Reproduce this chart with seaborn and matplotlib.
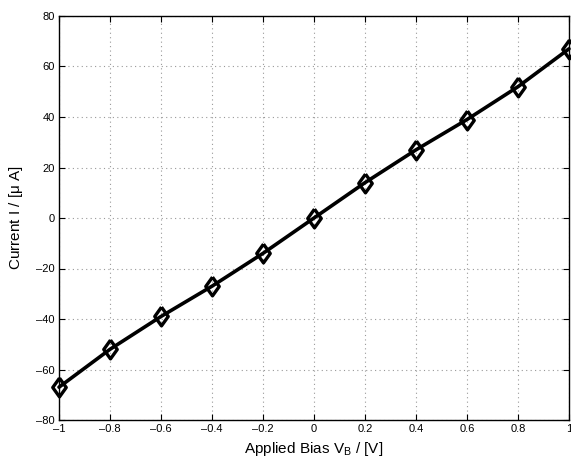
import matplotlib
matplotlib.use("Agg")
import matplotlib.pyplot as plt
import seaborn as sns
import pandas as pd

bias_v = [-1.0, -0.8, -0.6, -0.4, -0.2, 0.0, 0.2, 0.4, 0.6, 0.8, 1.0]
current_ua = [-67, -52, -39, -27, -14, 0, 14, 27, 39, 52, 67]
x_ticks = [-1, -0.8, -0.6, -0.4, -0.2, 0, 0.2, 0.4, 0.6, 0.8, 1]
y_ticks = [-80, -60, -40, -20, 0, 20, 40, 60, 80]

sns.set_style("white")
plt.rcParams["font.family"] = ["Liberation Sans", "DejaVu Sans"]
plt.rcParams["text.color"] = "black"
plt.rcParams["axes.labelcolor"] = "black"
plt.rcParams["xtick.color"] = "black"
plt.rcParams["ytick.color"] = "black"

df = pd.DataFrame({"V": bias_v, "I": current_ua})

# slightly tall diamond marker
diamond = [(0, 1), (0.72, 0), (0, -1), (-0.72, 0), (0, 1)]

fig = plt.figure(figsize=(5.71, 4.63), dpi=100)
ax = fig.add_axes([59 / 571, 1 - 420 / 463, 510 / 571, 404 / 463])

sns.lineplot(data=df, x="V", y="I", ax=ax, color="black", linewidth=2.6,
             marker=diamond, markersize=13.5, markerfacecolor="none",
             markeredgecolor="black", markeredgewidth=2.4, clip_on=False)

ax.set_xlim(-1, 1)
ax.set_ylim(-80, 80)
ax.set_xticks(x_ticks)
ax.set_yticks(y_ticks)
fmt = lambda v: ("\u2013" + f"{abs(v):g}") if v < 0 else f"{v:g}"
ax.set_xticklabels([fmt(v) for v in x_ticks])
ax.set_yticklabels([fmt(v) for v in y_ticks])
ax.tick_params(direction="in", length=4, width=0.8, labelsize=8,
               top=True, right=True, bottom=True, left=True, pad=3)
ax.grid(True, linestyle=(0, (1, 3)), color="#999999", linewidth=0.8)

for s in ax.spines.values():
    s.set_visible(True)
    s.set_color("black")
    s.set_linewidth(1.0)

ax.set_xlabel(r"Applied Bias V$_{\mathregular{B}}$ / [V]", fontsize=11, labelpad=4)
ax.set_ylabel(r"Current I / [$\mathregular{\mu}$ A]", fontsize=11, labelpad=8)

fig.savefig("out.png", dpi=100)
